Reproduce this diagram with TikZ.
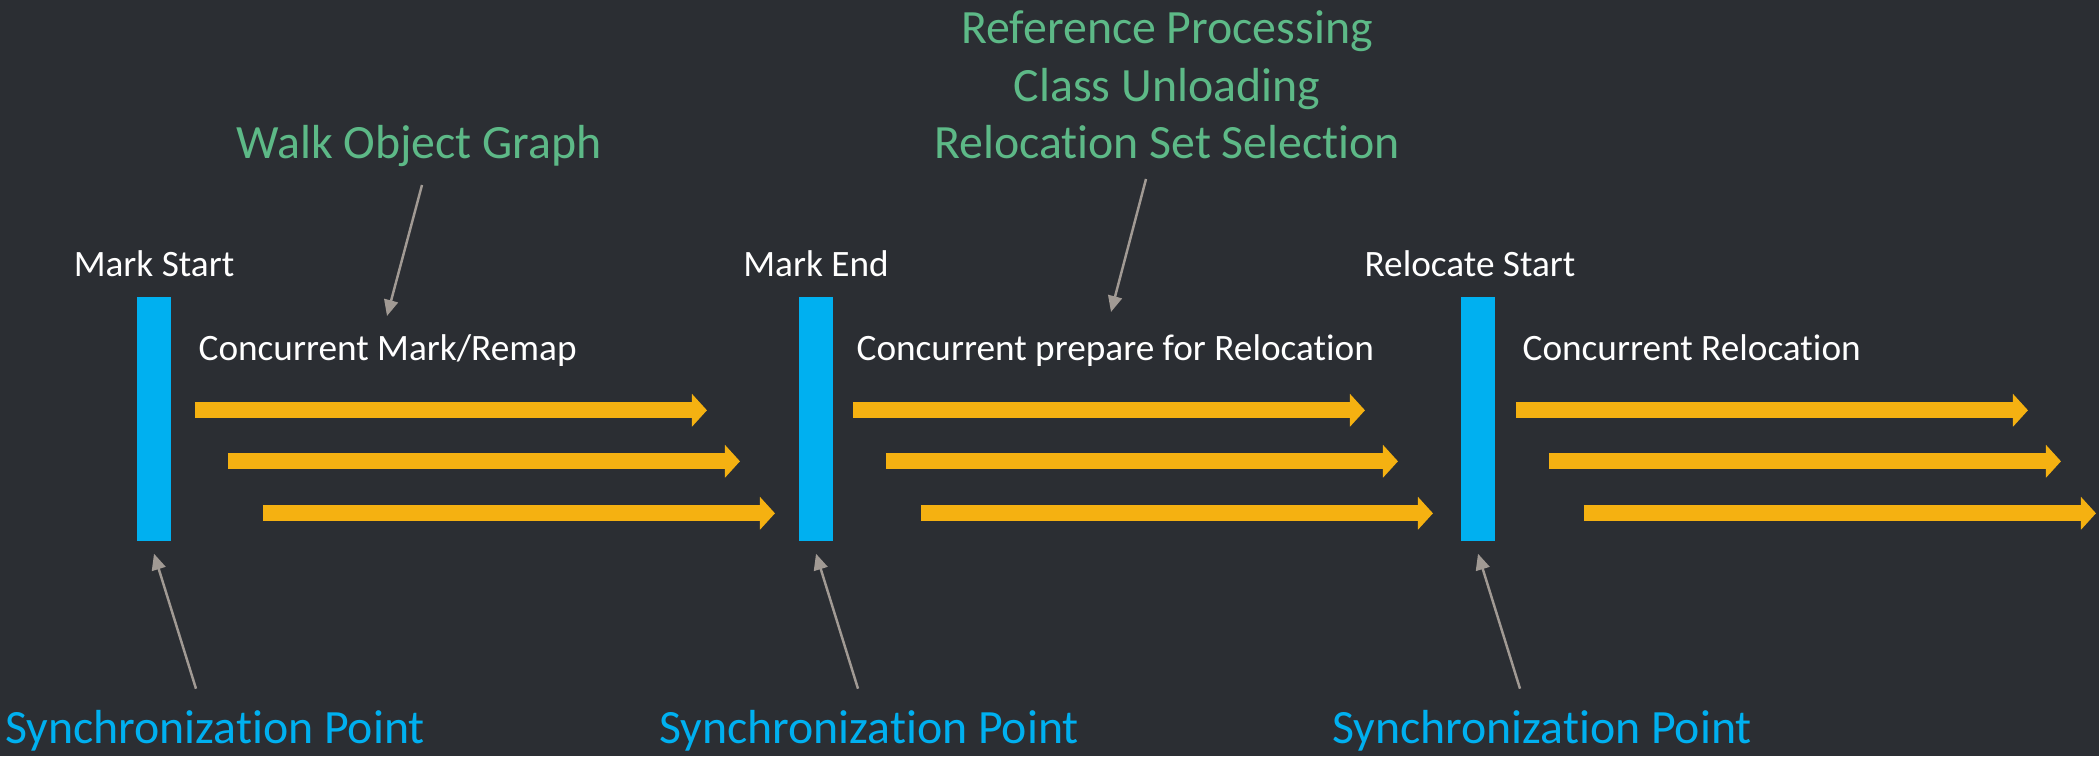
\documentclass[tikz,border=0pt]{standalone}
\usepackage{fontspec}
\setmainfont{Carlito}[Ligatures=NoCommon]
\usetikzlibrary{arrows.meta,calc}

\definecolor{bgdark}{HTML}{2B2E33}
\definecolor{syncblue}{HTML}{00B0F0}
\definecolor{flowgold}{HTML}{F5B111}
\definecolor{notegreen}{HTML}{5DB987}
\definecolor{pointergray}{HTML}{A19A94}

\tikzset{
  phasebar/.style={fill=syncblue, minimum width=0.345cm, minimum height=2.44cm, inner sep=0},
  phaselabel/.style={text=white, inner sep=0, font=\fontsize{10.6}{12}\selectfont},
  synclabel/.style={text=syncblue, inner sep=0, font=\fontsize{13.6}{16}\selectfont},
  notelabel/.style={text=notegreen, inner sep=0, align=center, font=\fontsize{13.6}{16.4}\selectfont},
  flow/.style={flowgold, line width=0.16cm, -{Triangle[length=0.15cm,width=0.32cm]}},
  pointer/.style={pointergray, line width=0.7pt, -{Triangle[length=0.16cm,width=0.14cm]}}
}

\begin{document}
\begin{tikzpicture}

    % background
    \fill[bgdark] (0,0) rectangle (20.99,-7.56);
    \useasboundingbox (0,0) rectangle (20.99,-7.56);

    % synchronization bars
    \foreach \i/\x in {1/1.54, 2/8.16, 3/14.78} {
        \node[phasebar] (bar\i) at (\x,-4.19) {};
    }

    % pause names
    \node[phaselabel, anchor=base] (top1) at ($(bar1.north)+(0,0.20)$) {Mark Start};
    \node[phaselabel, anchor=base] (top2) at ($(bar2.north)+(0,0.20)$) {Mark End};
    \node[phaselabel, anchor=base] (top3) at ($(bar3.north)+(-0.08,0.20)$) {Relocate Start};

    % concurrent phases
    \node[phaselabel, anchor=base west] (phase1) at ($(bar1.north east)+(0.26,-0.64)$) {Concurrent Mark/Remap};
    \node[phaselabel, anchor=base west] (phase2) at ($(bar2.north east)+(0.22,-0.64)$) {Concurrent prepare for Relocation};
    \node[phaselabel, anchor=base west] (phase3) at ($(bar3.north east)+(0.26,-0.64)$) {Concurrent Relocation};

    % worker threads
    \foreach \i/\sx in {1/0, 2/-0.04, 3/-0.03} {
        \foreach \k/\dx/\dy in {a/0.23/-1.14, b/0.56/-1.65, c/0.91/-2.17} {
            \coordinate (from\i\k) at ($(bar\i.north east)+(\dx+\sx,\dy)$);
            \coordinate (to\i\k) at ($(from\i\k)+(5.12,0)$);
            \draw[flow] (from\i\k) -- (to\i\k);
        }
    }

    % synchronization point notes
    \foreach \i/\sx in {1/0.61, 2/0.53, 3/0.64} {
        \node[synclabel, anchor=base] (sync\i) at ($(bar\i.south)+(\sx,-2.02)$) {Synchronization Point};
        \coordinate (tail\i) at ($(bar\i.south)+(0.42,-1.47)$);
        \coordinate (tip\i) at ($(bar\i.south)+(0,-0.12)$);
        \draw[pointer] (tail\i) -- (tip\i);
    }

    % work done inside the phases
    \node[notelabel, anchor=base] (walk) at (4.19,-1.58) {Walk Object Graph};
    \node[notelabel, anchor=north] (refwork) at (11.67,-0.10) {Reference Processing\\Class Unloading\\Relocation Set Selection};

    \coordinate (walktail) at (4.22,-1.85);
    \coordinate (walktip) at (3.87,-3.16);
    \draw[pointer] (walktail) -- (walktip);
    \coordinate (reftail) at (11.46,-1.79);
    \coordinate (reftip) at (11.11,-3.12);
    \draw[pointer] (reftail) -- (reftip);

\end{tikzpicture}
\end{document}
